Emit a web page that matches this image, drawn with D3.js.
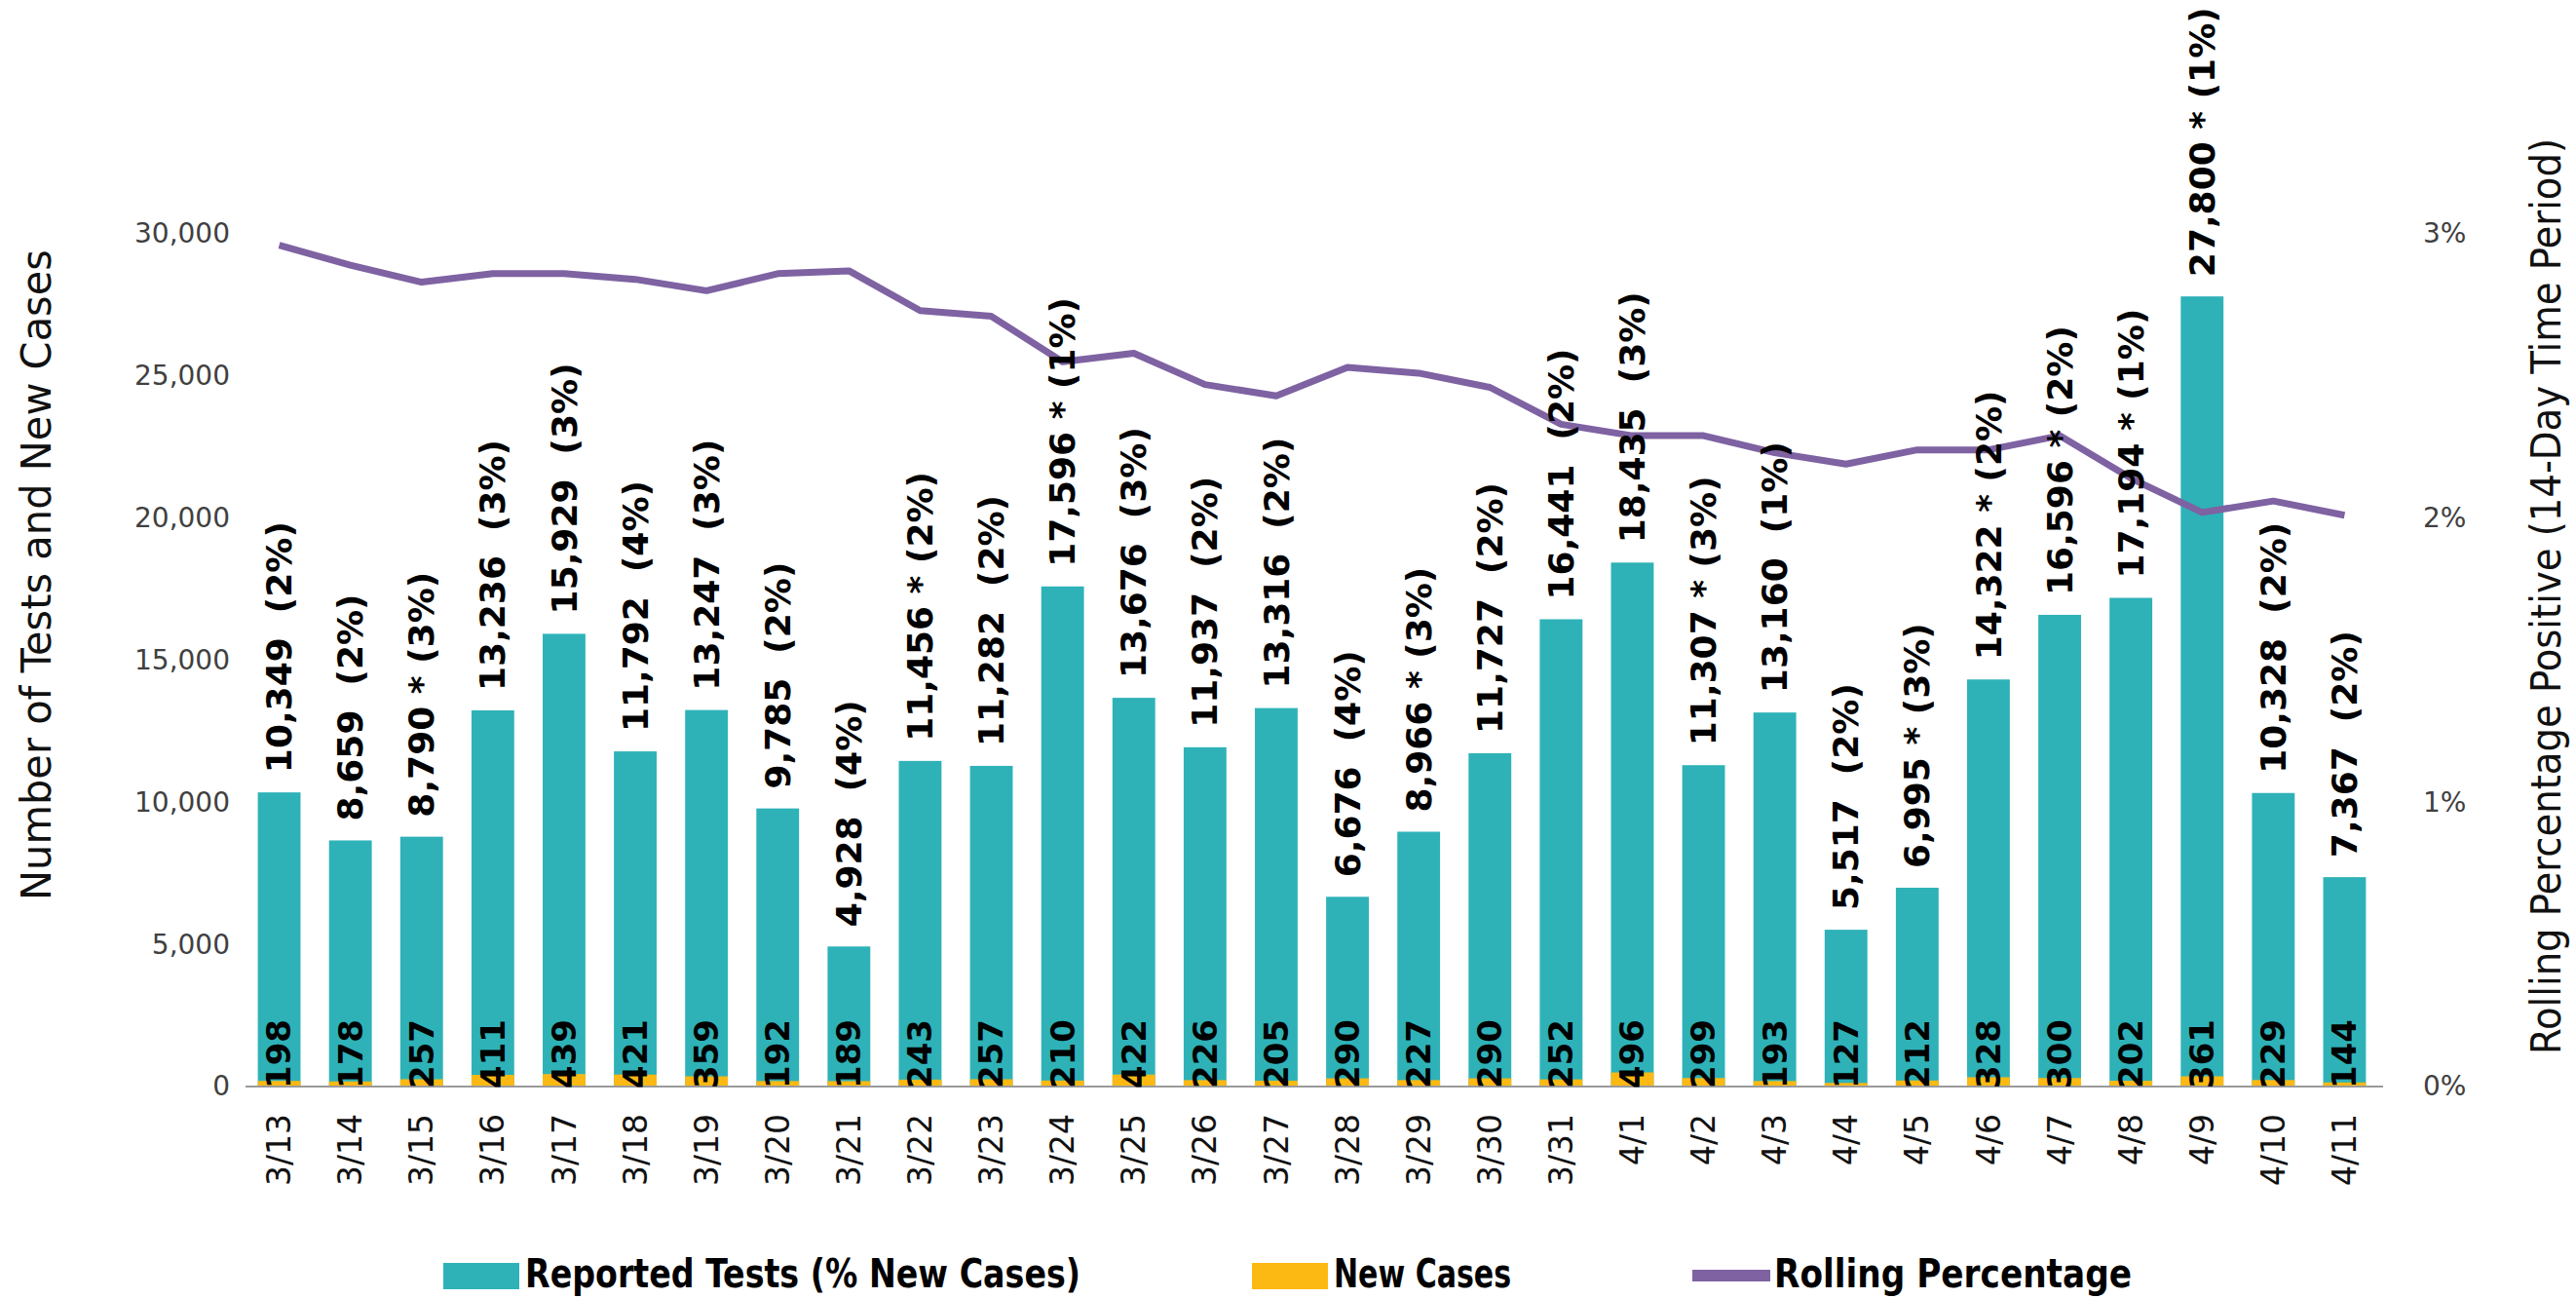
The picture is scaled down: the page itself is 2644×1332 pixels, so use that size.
<!DOCTYPE html>
<html>
<head>
<meta charset="utf-8">
<script src="https://cdn.jsdelivr.net/npm/d3@7"></script>
<style>
  body { margin: 0; background: #fff; }
  svg text { font-family: "DejaVu Sans", Verdana, sans-serif; }
  .title, .legend text { font-family: "Liberation Sans Narrow", "DejaVu Sans Condensed", sans-serif; }
</style>
</head>
<body>
<svg id="chart" width="2644" height="1332"></svg>
<script>
var dates = [ '3/13', '3/14', '3/15', '3/16', '3/17', '3/18', '3/19', '3/20', '3/21', '3/22',
  '3/23', '3/24', '3/25', '3/26', '3/27', '3/28', '3/29', '3/30', '3/31', '4/1',
  '4/2', '4/3', '4/4', '4/5', '4/6', '4/7', '4/8', '4/9', '4/10', '4/11' ];

var tests = [ 10349, 8659, 8790, 13236, 15929, 11792, 13247, 9785, 4928, 11456,
  11282, 17596, 13676, 11937, 13316, 6676, 8966, 11727, 16441, 18435,
  11307, 13160, 5517, 6995, 14322, 16596, 17194, 27800, 10328, 7367 ];

var starred = [ '3/15', '3/22', '3/24', '3/29', '4/2', '4/5', '4/6', '4/7', '4/8', '4/9' ];

var pctNew = [ 2, 2, 3, 3, 3, 4, 3, 2, 4, 2, 2, 1, 3, 2, 2, 4, 3, 2, 2, 3,
  3, 1, 2, 3, 2, 2, 1, 1, 2, 2 ];

var newCases = [ 198, 178, 257, 411, 439, 421, 359, 192, 189, 243, 257, 210, 422, 226, 205,
  290, 227, 290, 252, 496, 299, 193, 127, 212, 328, 300, 202, 361, 229, 144 ];

var rolling = [ 2.96, 2.89, 2.83, 2.86, 2.86, 2.84, 2.80, 2.86, 2.87, 2.73,
  2.71, 2.55, 2.58, 2.47, 2.43, 2.53, 2.51, 2.46, 2.33, 2.29,
  2.29, 2.23, 2.19, 2.24, 2.24, 2.29, 2.14, 2.02, 2.06, 2.01 ];

var leftTicks = [ 0, 5000, 10000, 15000, 20000, 25000, 30000 ];
var rightTicks = [ 0, 1, 2, 3 ];

var teal = '#2EB2B8', yellow = '#FDB913', purple = '#7E62A2';

var svg = d3.select( '#chart' );

var data = dates.map( ( d, i ) => ( {
  date: d, tests: tests[ i ], pct: pctNew[ i ], cases: newCases[ i ], rolling: rolling[ i ],
  star: starred.indexOf( d ) > -1
} ) );

var x = d3.scaleBand()
  .domain( dates )
  .range( [ 250, 2443 ] )
  .paddingInner( 0.4 )
  .paddingOuter( 0.2 );

var y = d3.scaleLinear().domain( [ 0, 30000 ] ).range( [ 1115, 240 ] );
var y2 = d3.scaleLinear().domain( [ 0, 3 ] ).range( [ 1115, 240 ] );

var fmt = d3.format( ',' );
var cx = d => x( d ) + x.bandwidth() / 2;

/* Bars */

svg.append( 'g' ).selectAll( 'rect' )
  .data( data )
  .enter().append( 'rect' )
    .attr( 'x', d => x( d.date ) )
    .attr( 'y', d => y( d.tests ) )
    .attr( 'width', x.bandwidth() )
    .attr( 'height', d => y( 0 ) - y( d.tests ) )
    .style( 'fill', teal );

svg.append( 'g' ).selectAll( 'rect' )
  .data( data )
  .enter().append( 'rect' )
    .attr( 'x', d => x( d.date ) )
    .attr( 'y', d => y( d.cases ) )
    .attr( 'width', x.bandwidth() )
    .attr( 'height', d => y( 0 ) - y( d.cases ) )
    .style( 'fill', yellow );

/* Axes */

svg.append( 'line' )
  .attr( 'x1', 252 ).attr( 'x2', 2446 )
  .attr( 'y1', y( 0 ) ).attr( 'y2', y( 0 ) )
  .style( 'stroke', '#9a9a9a' )
  .attr( 'stroke-width', 2 );

svg.append( 'g' )
  .attr( 'transform', 'translate(236,0)' )
  .call( d3.axisLeft( y ).tickValues( leftTicks ).tickSize( 0 ).tickPadding( 0 ).tickFormat( fmt ) )
  .call( g => g.select( '.domain' ).remove() )
  .call( g => g.selectAll( 'text' ).attr( 'font-size', 28 ).attr( 'fill', '#404040' ).style( 'font-family', null ) );

svg.append( 'g' )
  .attr( 'transform', 'translate(2487,0)' )
  .call( d3.axisRight( y2 ).tickValues( rightTicks ).tickSize( 0 ).tickPadding( 0 ).tickFormat( d => d + '%' ) )
  .call( g => g.select( '.domain' ).remove() )
  .call( g => g.selectAll( 'text' ).attr( 'font-size', 28 ).attr( 'fill', '#404040' ).style( 'font-family', null ) );

svg.append( 'g' ).selectAll( 'text' )
  .data( dates )
  .enter().append( 'text' )
    .attr( 'transform', d => 'translate(' + cx( d ) + ',1143) rotate(-90)' )
    .attr( 'dy', '0.35em' )
    .attr( 'text-anchor', 'end' )
    .attr( 'font-size', 33 )
    .attr( 'fill', '#111' )
    .text( d => d );

/* Line */

var line = d3.line()
  .x( d => cx( d.date ) )
  .y( d => y2( d.rolling ) );

svg.append( 'path' )
  .datum( data )
  .attr( 'd', line )
  .style( 'fill', 'none' )
  .style( 'stroke', purple )
  .attr( 'stroke-width', 7 )
  .attr( 'stroke-linejoin', 'round' );

/* Labels */

svg.append( 'g' ).selectAll( 'text' )
  .data( data )
  .enter().append( 'text' )
    .attr( 'transform', d => 'translate(' + cx( d.date ) + ',' + ( y( d.tests ) - 20 ) + ') rotate(-90)' )
    .attr( 'dy', '0.35em' )
    .attr( 'font-size', 36 )
    .attr( 'font-weight', 'bold' )
    .attr( 'fill', '#000' )
    .style( 'white-space', 'pre' )
    .text( d => fmt( d.tests ) + ( d.star ? ' * ' : '  ' ) + '(' + d.pct + '%)' );

svg.append( 'g' ).selectAll( 'text' )
  .data( data )
  .enter().append( 'text' )
    .attr( 'transform', d => 'translate(' + cx( d.date ) + ',' + ( y( 0 ) + 2 ) + ') rotate(-90)' )
    .attr( 'dy', '0.35em' )
    .attr( 'font-size', 34 )
    .attr( 'font-weight', 'bold' )
    .attr( 'fill', '#000' )
    .text( d => d.cases );

/* Titles */

svg.append( 'text' )
  .attr( 'class', 'title' )
  .attr( 'transform', 'translate(37,590) rotate(-90)' )
  .attr( 'dy', '0.35em' )
  .attr( 'text-anchor', 'middle' )
  .attr( 'font-size', 42 )
  .attr( 'textLength', 668 )
  .attr( 'lengthAdjust', 'spacingAndGlyphs' )
  .attr( 'fill', '#111' )
  .text( 'Number of Tests and New Cases' );

svg.append( 'text' )
  .attr( 'class', 'title' )
  .attr( 'transform', 'translate(2613,612) rotate(-90)' )
  .attr( 'dy', '0.35em' )
  .attr( 'text-anchor', 'middle' )
  .attr( 'font-size', 42 )
  .attr( 'textLength', 940 )
  .attr( 'lengthAdjust', 'spacingAndGlyphs' )
  .attr( 'fill', '#111' )
  .text( 'Rolling Percentage Positive (14-Day Time Period)' );

/* Legend */

var legendItems = [
  { name: 'Reported Tests (% New Cases)', x: 455, len: 570, type: 'rect', color: teal },
  { name: 'New Cases', x: 1285, len: 182, type: 'rect', color: yellow },
  { name: 'Rolling Percentage', x: 1737, len: 367, type: 'line', color: purple }
];

var legend = svg.append( 'g' )
  .attr( 'class', 'legend' );

var legends = legend.selectAll( 'g' )
  .data( legendItems )
  .enter().append( 'g' )
    .attr( 'transform', d => 'translate(' + d.x + ',1309)' );

legends.filter( d => d.type === 'rect' ).append( 'rect' )
  .attr( 'x', 0 )
  .attr( 'y', -13 )
  .attr( 'width', 78 )
  .attr( 'height', 27 )
  .style( 'fill', d => d.color );

legends.filter( d => d.type === 'line' ).append( 'line' )
  .attr( 'x1', 0 ).attr( 'x2', 80 )
  .attr( 'y1', 0 ).attr( 'y2', 0 )
  .style( 'stroke', d => d.color )
  .attr( 'stroke-width', 12 );

legends.append( 'text' )
  .attr( 'x', 84 )
  .attr( 'y', 12 )
  .attr( 'font-size', 40 )
  .attr( 'font-weight', 'bold' )
  .attr( 'textLength', d => d.len )
  .attr( 'lengthAdjust', 'spacingAndGlyphs' )
  .attr( 'fill', '#000' )
  .text( d => d.name );
</script>
</body>
</html>
